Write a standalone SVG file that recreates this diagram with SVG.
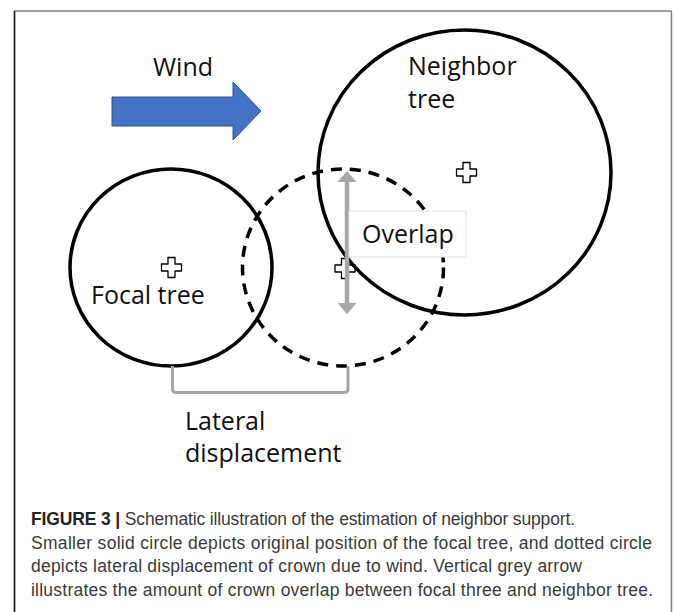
<svg xmlns="http://www.w3.org/2000/svg" width="674" height="612" viewBox="0 0 674 612">
<style>
.lbl{font-family:"Open Sans","Noto Sans",sans-serif;font-size:25px;fill:#111}
.cap{font-family:"Liberation Sans",Arial,sans-serif;font-size:17.5px;fill:#3a3a3a}
.capb{font-weight:bold;fill:#222}
.crown{fill:none;stroke:#000;stroke-width:3.5}
.cross{fill:#fff;stroke:#000;stroke-width:1.3;stroke-linejoin:round}
.grey{stroke:#a6a6a6;fill:none}
</style>
<defs>
<path id="plus" d="M-3.5,-10 H3.5 V-3.5 H10 V3.5 H3.5 V10 H-3.5 V3.5 H-10 V-3.5 H-3.5 Z"/>
</defs>
<rect width="674" height="612" fill="#fff"/>
<g id="frame">
<line x1="14" y1="11" x2="671.5" y2="11" stroke="#7f7f7f" stroke-width="1.5"/>
<line x1="671.5" y1="11" x2="671.5" y2="612" stroke="#7f7f7f" stroke-width="1.5"/>
<line x1="14.5" y1="11" x2="14.5" y2="612" stroke="#1a1a1a" stroke-width="1.7"/>
</g>
<g id="wind">
<path d="M112,97 H233 V82 L261,111 L233,140 V126 H112 Z" fill="#4472c4" stroke="#2f528f" stroke-width="1"/>
<text class="lbl" x="153" y="76">Wind</text>
</g>
<g id="focal-tree">
<ellipse class="crown" cx="171" cy="267.5" rx="101" ry="98.5"/>
<use href="#plus" class="cross" transform="translate(171.5,267.5)"/>
<text class="lbl" x="91" y="304">Focal tree</text>
</g>
<g id="displaced-crown">
<ellipse class="crown" cx="343" cy="267.5" rx="100.5" ry="98.5" stroke-dasharray="11 8"/>
<use href="#plus" class="cross" transform="translate(345,268.5)"/>
</g>
<g id="neighbor-tree">
<ellipse class="crown" cx="464.5" cy="172.5" rx="146.5" ry="142.5"/>
<use href="#plus" class="cross" transform="translate(466.5,172.5)"/>
<text class="lbl" x="408" y="75">Neighbor</text>
<text class="lbl" x="408" y="108">tree</text>
</g>
<g id="connectors">
<line class="grey" x1="347" y1="179" x2="347" y2="305" stroke-width="4.5"/>
<path d="M347,171 L356.5,182 H337.5 Z" fill="#a6a6a6"/>
<path d="M347,314 L356.5,303 H337.5 Z" fill="#a6a6a6"/>
<path class="grey" d="M172.5,366 V389 Q172.5,392.5 176,392.5 H344.5 Q348,392.5 348,389 V366" stroke-width="3"/>
</g>
<g id="overlap">
<rect x="349" y="211" width="117" height="46" fill="#fff" stroke="#e3e3e3" stroke-width="1"/>
<text class="lbl" x="362" y="243">Overlap</text>
</g>
<g id="lateral">
<text class="lbl" x="185" y="430">Lateral</text>
<text class="lbl" x="185" y="462">displacement</text>
</g>
<g id="caption">
<text class="cap" x="31" y="525" textLength="544" lengthAdjust="spacing"><tspan class="capb">FIGURE 3 |</tspan> Schematic illustration of the estimation of neighbor support.</text>
<text class="cap" x="31" y="549" textLength="621" lengthAdjust="spacing">Smaller solid circle depicts original position of the focal tree, and dotted circle</text>
<text class="cap" x="31" y="572" textLength="551" lengthAdjust="spacing">depicts lateral displacement of crown due to wind. Vertical grey arrow</text>
<text class="cap" x="31" y="596" textLength="622" lengthAdjust="spacing">illustrates the amount of crown overlap between focal three and neighbor tree.</text>
</g>
</svg>
